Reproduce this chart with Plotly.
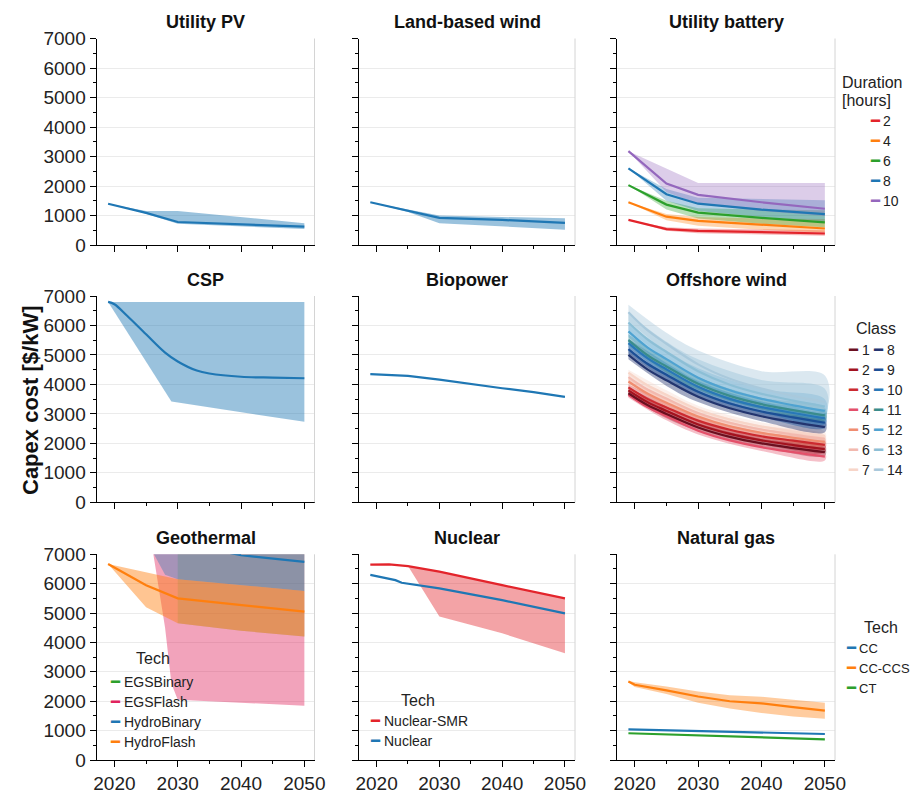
import plotly.graph_objects as go

# ---------------- DATA ----------------
panel_titles = ["Utility PV", "Land-based wind", "Utility battery",
                "CSP", "Biopower", "Offshore wind",
                "Geothermal", "Nuclear", "Natural gas"]
x_tick_vals = [2020, 2030, 2040, 2050]
y_tick_vals = [0, 1000, 2000, 3000, 4000, 5000, 6000, 7000]

# Utility PV
pv_years = [2019, 2025, 2030, 2040, 2050]
pv_mid = [1400, 1090, 780, 700, 620]
pv_low = [1400, 1060, 720, 620, 540]
pv_high = [1400, 1150, 1150, 950, 740]

# Land-based wind
lbw_years = [2019, 2025, 2030, 2040, 2050]
lbw_mid = [1450, 1170, 920, 850, 750]
lbw_low = [1450, 1120, 740, 640, 520]
lbw_high = [1450, 1210, 1000, 950, 910]

# Utility battery (duration in hours)
bat_years = [2019, 2025, 2030, 2040, 2050]
bat_names = ["2", "4", "6", "8", "10"]
bat_mid_2 = [850, 540, 480, 430, 390]
bat_mid_4 = [1450, 960, 820, 680, 560]
bat_mid_6 = [2030, 1370, 1100, 920, 770]
bat_mid_8 = [2600, 1720, 1400, 1200, 1050]
bat_mid_10 = [3180, 2080, 1700, 1450, 1230]
bat_low_2 = [850, 480, 400, 350, 310]
bat_low_4 = [1450, 840, 650, 520, 420]
bat_low_6 = [2030, 1200, 900, 720, 600]
bat_low_8 = [2600, 1500, 1150, 950, 800]
bat_low_10 = [3180, 1800, 1400, 1150, 980]
bat_high_2 = [850, 600, 560, 520, 500]
bat_high_4 = [1450, 1050, 950, 900, 880]
bat_high_6 = [2030, 1500, 1250, 1200, 1180]
bat_high_8 = [2600, 1900, 1600, 1550, 1520]
bat_high_10 = [3180, 2600, 2100, 2100, 2100]
bat_colors = ["#e3242b", "#ff7f0e", "#2ca02c", "#1f77b4", "#9467bd"]

# CSP
csp_years = [2019, 2020, 2022, 2025, 2028, 2030, 2033, 2035, 2040, 2045, 2050]
csp_mid = [6800, 6720, 6330, 5700, 5080, 4780, 4470, 4370, 4260, 4230, 4210]
csp_band_years = [2019, 2029, 2032, 2035, 2040, 2045, 2050]
csp_low = [6800, 3420, 3320, 3230, 3060, 2900, 2730]
csp_high = [6800, 6800, 6800, 6800, 6800, 6800, 6800]

# Biopower
bio_years = [2019, 2022, 2025, 2030, 2035, 2040, 2045, 2050]
bio_mid = [4350, 4310, 4290, 4160, 4010, 3870, 3740, 3580]

# Offshore wind (classes 1-14)
ow_years = [2019, 2022, 2025, 2030, 2035, 2040, 2045, 2050]
ow_band_years = [2019, 2025, 2030, 2040, 2050]
ow_classes = [str(i) for i in range(1, 15)]
ow_mid_1 = [3700, 3300, 3000, 2540, 2220, 2000, 1840, 1700]
ow_mid_2 = [3800, 3400, 3100, 2640, 2320, 2100, 1940, 1800]
ow_mid_3 = [3900, 3510, 3220, 2770, 2460, 2240, 2090, 1950]
ow_mid_4 = [3650, 3230, 2920, 2430, 2100, 1870, 1700, 1550]
ow_mid_5 = [4100, 3690, 3380, 2910, 2580, 2360, 2190, 2050]
ow_mid_6 = [4250, 3830, 3520, 3030, 2700, 2470, 2300, 2150]
ow_mid_7 = [4400, 3970, 3650, 3150, 2810, 2570, 2400, 2250]
ow_mid_8 = [5000, 4510, 4140, 3580, 3190, 2920, 2720, 2550]
ow_mid_9 = [5200, 4700, 4330, 3750, 3350, 3080, 2880, 2700]
ow_mid_10 = [5400, 4890, 4510, 3920, 3510, 3230, 3030, 2850]
ow_mid_11 = [5500, 4990, 4610, 4020, 3610, 3330, 3130, 2950]
ow_mid_12 = [5800, 5260, 4860, 4230, 3800, 3510, 3290, 3100]
ow_mid_13 = [6100, 5530, 5100, 4450, 3990, 3680, 3450, 3250]
ow_mid_14 = [6450, 5840, 5380, 4680, 4190, 3860, 3610, 3400]
ow_low_1 = [3600, 2850, 2420, 1880, 1580]
ow_low_2 = [3700, 2950, 2520, 1980, 1680]
ow_low_3 = [3800, 3070, 2640, 2110, 1820]
ow_low_4 = [3550, 2780, 2300, 1740, 1420]
ow_low_5 = [4000, 3230, 2780, 2230, 1920]
ow_low_6 = [4150, 3370, 2900, 2340, 2020]
ow_low_7 = [4300, 3500, 3020, 2440, 2120]
ow_low_8 = [4850, 3950, 3400, 2750, 2380]
ow_low_9 = [5050, 4130, 3560, 2900, 2520]
ow_low_10 = [5250, 4300, 3720, 3050, 2660]
ow_low_11 = [5350, 4400, 3820, 3150, 2760]
ow_low_12 = [5600, 4620, 4000, 3300, 2900]
ow_low_13 = [5850, 4850, 4200, 3450, 3030]
ow_low_14 = [6150, 5100, 4400, 3600, 3150]
ow_high_1 = [3800, 3150, 2680, 2150, 1850]
ow_high_2 = [3900, 3250, 2780, 2250, 1950]
ow_high_3 = [4000, 3370, 2900, 2380, 2090]
ow_high_4 = [3750, 3060, 2560, 2000, 1680]
ow_high_5 = [4200, 3530, 3040, 2500, 2190]
ow_high_6 = [4350, 3670, 3160, 2610, 2290]
ow_high_7 = [4500, 3800, 3280, 2710, 2390]
ow_high_8 = [5150, 4350, 3780, 3100, 2750]
ow_high_9 = [5350, 4550, 3950, 3270, 2900]
ow_high_10 = [5550, 4730, 4120, 3420, 3050]
ow_high_11 = [5700, 4850, 4250, 3550, 3200]
ow_high_12 = [6050, 5150, 4550, 3850, 3500]
ow_high_13 = [6400, 5450, 4850, 4150, 3850]
ow_high_14 = [6700, 5750, 5150, 4450, 4300]
ow_colors = ["#6b0f1f", "#a3121e", "#cc2a2f", "#e4506a", "#f08d70", "#f2b9ae", "#f7d5c8",
             "#23356f", "#1b4f96", "#2878b8", "#3a8c8c", "#4fa3d1", "#8cbfd6", "#a9c9dc"]

# Geothermal
geo_names = ["EGSBinary", "EGSFlash", "HydroBinary", "HydroFlash"]
geo_colors = ["#2ca02c", "#e0245e", "#1f77b4", "#ff7f0e"]
geo_hf_years = [2019, 2025, 2030, 2040, 2050]
geo_hf_mid = [6670, 5950, 5500, 5270, 5050]
geo_hf_low = [6670, 5200, 4650, 4400, 4200]
geo_hf_high = [6670, 6400, 6150, 5950, 5750]
geo_hb_years = [2019, 2026, 2028, 2030, 2040, 2050]
geo_hb_mid = [8600, 7800, 7600, 7400, 6970, 6740]
geo_hb_low = [9000, 7100, 6300, 6150, 5950, 5750]
geo_hb_high = [12000, 12000, 12000, 12000, 12000, 12000]
geo_eb_years = [2030, 2040, 2050]
geo_eb_mid = [10200, 9400, 8800]
geo_eb_low = [4650, 4400, 4200]
geo_eb_high = [15000, 15000, 15000]
geo_ef_years = [2019, 2026, 2028, 2029, 2030, 2040, 2050]
geo_ef_mid = [13000, 11500, 9500, 9000, 8700, 8200, 7800]
geo_ef_low = [11000, 7200, 4500, 2600, 2050, 1950, 1850]
geo_ef_high = [15000, 15000, 15000, 15000, 15000, 15000, 15000]

# Nuclear
nuc_names = ["Nuclear-SMR", "Nuclear"]
nuc_colors = ["#e3242b", "#1f77b4"]
nuc_smr_years = [2019, 2022, 2025, 2028, 2030, 2040, 2050]
nuc_smr_mid = [6650, 6660, 6600, 6480, 6410, 5950, 5500]
nuc_smr_low = [6650, 6660, 6600, 5550, 4880, 4310, 3630]
nuc_years = [2019, 2022, 2023, 2024, 2030, 2040, 2050]
nuc_mid = [6300, 6150, 6120, 6030, 5840, 5440, 4990]

# Natural gas
gas_names = ["CC", "CC-CCS", "CT"]
gas_colors = ["#1f77b4", "#ff7f0e", "#2ca02c"]
gas_years = [2019, 2020, 2025, 2030, 2035, 2040, 2045, 2050]
gas_ccs_mid = [2670, 2560, 2370, 2160, 2000, 1930, 1800, 1680]
gas_ccs_low = [2650, 2480, 2250, 1950, 1750, 1600, 1480, 1400]
gas_ccs_high = [2700, 2650, 2500, 2330, 2200, 2150, 2050, 1950]
gas_cc_years = [2019, 2030, 2040, 2050]
gas_cc_mid = [1045, 990, 940, 885]
gas_ct_mid = [910, 830, 770, 705]

# ---------------- HELPERS ----------------
W, H = 911, 793
col_px = [(96.7, 314.5), (359, 575), (617, 835)]
row_px = [(38.5, 245), (296, 502.3), (554.3, 760)]
FONT = "Liberation Sans, Arial, sans-serif"
BLUE = "#1f77b4"


def rgba(hexc, a):
    hexc = hexc.lstrip("#")
    r, g, b = int(hexc[0:2], 16), int(hexc[2:4], 16), int(hexc[4:6], 16)
    return f"rgba({r},{g},{b},{a})"


def ax_names(k):
    return ("x" if k == 0 else f"x{k+1}", "y" if k == 0 else f"y{k+1}")


fig = go.Figure()


def add_band(k, years, low, high, color, alpha=0.45, shape="linear"):
    xa, ya = ax_names(k)
    fig.add_trace(go.Scatter(
        x=list(years) + list(years)[::-1], y=list(high) + list(low)[::-1],
        fill="toself", fillcolor=rgba(color, alpha), line=dict(width=0, shape=shape),
        mode="lines", hoverinfo="skip", showlegend=False, xaxis=xa, yaxis=ya))


def add_line(k, years, vals, color, name=None, width=2.2, shape="linear"):
    xa, ya = ax_names(k)
    fig.add_trace(go.Scatter(
        x=years, y=vals, mode="lines", line=dict(color=color, width=width, shape=shape),
        name=name, showlegend=False, xaxis=xa, yaxis=ya))


# Utility PV
add_band(0, pv_years, pv_low, pv_high, BLUE)
add_line(0, pv_years, pv_mid, BLUE, "Utility PV")
# Land-based wind
add_band(1, lbw_years, lbw_low, lbw_high, BLUE)
add_line(1, lbw_years, lbw_mid, BLUE, "Land-based wind")
# Utility battery
bat_mids = [bat_mid_2, bat_mid_4, bat_mid_6, bat_mid_8, bat_mid_10]
bat_lows = [bat_low_2, bat_low_4, bat_low_6, bat_low_8, bat_low_10]
bat_highs = [bat_high_2, bat_high_4, bat_high_6, bat_high_8, bat_high_10]
for i in range(len(bat_names)):
    add_band(2, bat_years, bat_lows[i], bat_highs[i], bat_colors[i], 0.33)
for i in range(len(bat_names)):
    add_line(2, bat_years, bat_mids[i], bat_colors[i], bat_names[i] + " h")
# CSP
add_band(3, csp_band_years, csp_low, csp_high, BLUE, 0.45)
add_line(3, csp_years, csp_mid, BLUE, "CSP", shape="spline")
# Biopower
add_line(4, bio_years, bio_mid, BLUE, "Biopower")
# Offshore wind
ow_mids = [ow_mid_1, ow_mid_2, ow_mid_3, ow_mid_4, ow_mid_5, ow_mid_6, ow_mid_7,
           ow_mid_8, ow_mid_9, ow_mid_10, ow_mid_11, ow_mid_12, ow_mid_13, ow_mid_14]
ow_lows = [ow_low_1, ow_low_2, ow_low_3, ow_low_4, ow_low_5, ow_low_6, ow_low_7,
           ow_low_8, ow_low_9, ow_low_10, ow_low_11, ow_low_12, ow_low_13, ow_low_14]
ow_highs = [ow_high_1, ow_high_2, ow_high_3, ow_high_4, ow_high_5, ow_high_6, ow_high_7,
            ow_high_8, ow_high_9, ow_high_10, ow_high_11, ow_high_12, ow_high_13, ow_high_14]
for i in range(len(ow_classes)):
    add_band(5, ow_band_years, ow_lows[i], ow_highs[i], ow_colors[i],
             0.36 if i < 7 else 0.42, "spline")
for i in list(range(13, 6, -1)) + list(range(6, -1, -1)):
    add_line(5, ow_years, ow_mids[i], ow_colors[i], "Class " + ow_classes[i], shape="spline")
# Geothermal
add_band(6, geo_ef_years, geo_ef_low, geo_ef_high, geo_colors[1], 0.42)
add_band(6, geo_eb_years, geo_eb_low, geo_eb_high, geo_colors[0], 0.2)
add_band(6, geo_hb_years, geo_hb_low, geo_hb_high, geo_colors[2], 0.36)
add_band(6, geo_hf_years, geo_hf_low, geo_hf_high, geo_colors[3], 0.45)
add_line(6, geo_eb_years, geo_eb_mid, geo_colors[0], geo_names[0])
add_line(6, geo_ef_years, geo_ef_mid, geo_colors[1], geo_names[1])
add_line(6, geo_hb_years, geo_hb_mid, geo_colors[2], geo_names[2])
add_line(6, geo_hf_years, geo_hf_mid, geo_colors[3], geo_names[3])
# Nuclear
add_band(7, nuc_smr_years, nuc_smr_low, nuc_smr_mid, nuc_colors[0], 0.42)
add_line(7, nuc_smr_years, nuc_smr_mid, nuc_colors[0], nuc_names[0])
add_line(7, nuc_years, nuc_mid, nuc_colors[1], nuc_names[1])
# Natural gas
add_band(8, gas_years, gas_ccs_low, gas_ccs_high, gas_colors[1], 0.4)
add_line(8, gas_cc_years, gas_cc_mid, gas_colors[0], gas_names[0])
add_line(8, gas_years, gas_ccs_mid, gas_colors[1], gas_names[1])
add_line(8, gas_cc_years, gas_ct_mid, gas_colors[2], gas_names[2])

# ---------------- AXES ----------------
layout = dict(width=W, height=H, margin=dict(l=0, r=0, t=0, b=0, autoexpand=False),
              paper_bgcolor="white", plot_bgcolor="white", showlegend=False,
              font=dict(family=FONT, color="#222"))
annotations = []
shapes = []
for k in range(9):
    r, c = divmod(k, 3)
    xa, ya = ax_names(k)
    xkey = "xaxis" if k == 0 else f"xaxis{k+1}"
    ykey = "yaxis" if k == 0 else f"yaxis{k+1}"
    x0, x1 = col_px[c]
    yt, yb = row_px[r]
    layout[xkey] = dict(domain=[x0 / W, x1 / W], range=[2017.2, 2051.6], anchor=ya,
                        showgrid=False, zeroline=False, showline=True, linecolor="black",
                        linewidth=1.3, ticks="outside", ticklen=6, tickcolor="black",
                        tickvals=x_tick_vals, showticklabels=(r == 2),
                        tickfont=dict(size=19, family=FONT, color="#222"),
                        minor=dict(ticks="outside", ticklen=3, tickcolor="black",
                                   tickvals=[2025, 2035, 2045]))
    layout[ykey] = dict(domain=[1 - yb / H, 1 - yt / H], range=[0, 7000], anchor=xa,
                        showgrid=True, gridcolor="#ebebeb", gridwidth=1, zeroline=False,
                        showline=True, linecolor="black", linewidth=1.3,
                        ticks="outside", ticklen=6, tickcolor="black",
                        tickvals=y_tick_vals, showticklabels=(c == 0),
                        tickfont=dict(size=19, family=FONT, color="#222"),
                        minor=dict(ticks="outside", ticklen=3, tickcolor="black",
                                   dtick=500, tick0=0))
    shapes.append(dict(type="line", xref=f"{xa} domain", yref=f"{ya} domain",
                       x0=1, x1=1, y0=0, y1=1, line=dict(color="#d4d4d4", width=1)))
    annotations.append(dict(text=f"<b>{panel_titles[k]}</b>", xref="paper", yref="paper",
                            x=(x0 + x1) / 2 / W, y=1 - (yt - 16.5) / H,
                            xanchor="center", yanchor="middle", showarrow=False,
                            font=dict(size=18, family=FONT, color="#111")))

annotations.append(dict(text="<b>Capex cost [$/kW]</b>", xref="paper", yref="paper",
                        x=30 / W, y=1 - 400 / H, textangle=-90, showarrow=False,
                        xanchor="center", yanchor="middle",
                        font=dict(size=22, family=FONT, color="#111")))


# ---------------- LEGENDS (drawn as text) ----------------
def leg_title(text, xpx, ypx, anchor="center"):
    annotations.append(dict(text=text, xref="paper", yref="paper", x=xpx / W, y=1 - ypx / H,
                            showarrow=False, xanchor=anchor, yanchor="middle",
                            font=dict(size=16, family=FONT, color="#222")))


def leg_entry(label, color, line_cx, text_x, ypx, size=14):
    annotations.append(dict(text="━", xref="paper", yref="paper", x=line_cx / W,
                            y=1 - ypx / H, showarrow=False, xanchor="center",
                            yanchor="middle",
                            font=dict(size=15, family="DejaVu Sans", color=color)))
    annotations.append(dict(text=label, xref="paper", yref="paper", x=text_x / W,
                            y=1 - ypx / H, showarrow=False, xanchor="left", yanchor="middle",
                            font=dict(size=size, family=FONT, color="#222")))


# Utility battery
leg_title("Duration", 840, 82, "left")
leg_title("[hours]", 840, 100, "left")
for i, nm in enumerate(bat_names):
    leg_entry(nm, bat_colors[i], 875, 881, 121 + 20 * i)

# Offshore wind (two columns)
leg_title("Class", 876, 328)
for i in range(7):
    leg_entry(ow_classes[i], ow_colors[i], 853, 860, 350 + 20 * i)
    leg_entry(ow_classes[i + 7], ow_colors[i + 7], 878, 885, 350 + 20 * i)

# Geothermal
leg_title("Tech", 153, 658)
for i, nm in enumerate(geo_names):
    leg_entry(nm, geo_colors[i], 115, 122, 682 + 20 * i)

# Nuclear
leg_title("Tech", 418, 700)
for i, nm in enumerate(nuc_names):
    leg_entry(nm, nuc_colors[i], 375, 382, 721 + 20 * i)

# Natural gas
leg_title("Tech", 881, 627)
for i, nm in enumerate(gas_names):
    leg_entry(nm, gas_colors[i], 851, 857, 648 + 20 * i, size=13)

layout["annotations"] = annotations
layout["shapes"] = shapes
fig.update_layout(**layout)

fig.write_html("out.html", config={"displayModeBar": False},
               post_script="document.body.style.margin='0';document.body.style.overflow='hidden';")
